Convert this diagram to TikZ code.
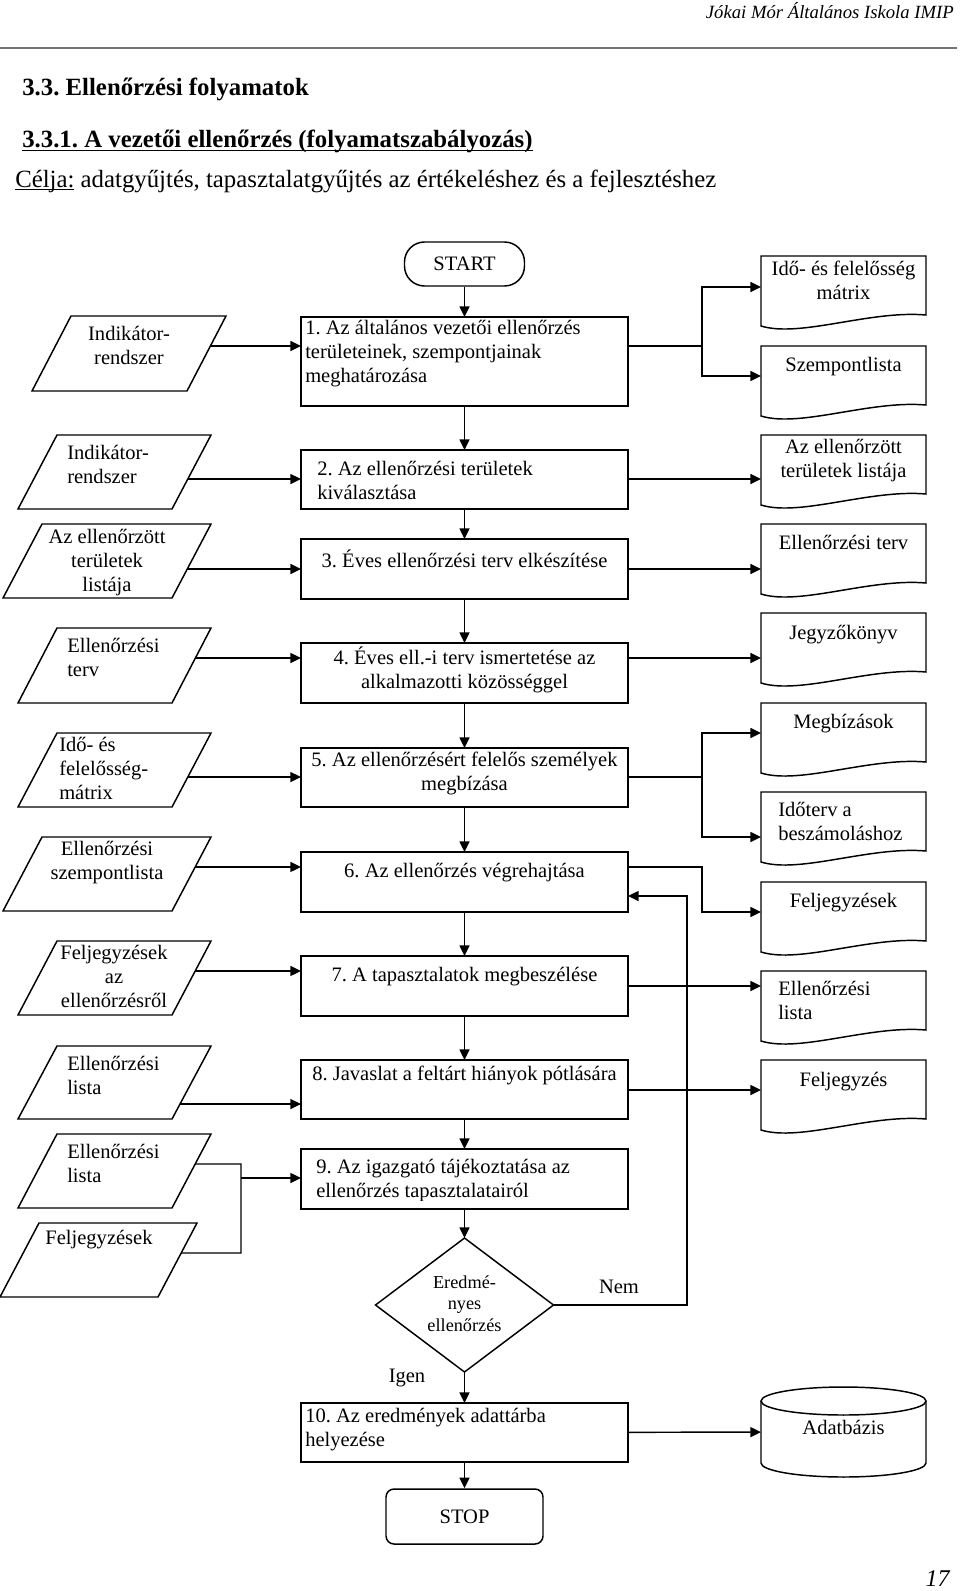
\documentclass[tikz,border=0pt]{standalone}
\usepackage{fontspec}
\setmainfont{Liberation Serif}
\usetikzlibrary{arrows.meta,calc}
\frenchspacing
\newcommand\myul[1]{\setbox0\hbox{#1}\rlap{\rule[-2.6pt]{\wd0}{0.9pt}}\box0\relax}
\newcommand\procbox[5]{\node[pbox,minimum width={(#4-#2)*0.75pt},minimum height={(#5-#3)*0.75pt}] (#1) at ({(#2+#4)/2},{(#3+#5)/2}) {};}
\newcommand\docshape[2]{%
  \node[inner sep=0pt,outer sep=0pt,minimum width=123.75pt,minimum height=52.5pt] (#1) at (843.5,{#2+35}) {};
  \draw[line] (761,{#2+70}) -- (761,#2) -- (926,#2) -- (926,{#2+59}) .. controls (870,{#2+54}) and (800,{#2+82}) .. (761,{#2+70}) -- cycle;}
\newcommand\para[5]{%
  \coordinate (#1-tl) at ({#2+39},#4);
  \coordinate (#1-tr) at (#3,#4);
  \coordinate (#1-br) at ({#3-39},#5);
  \coordinate (#1-bl) at (#2,#5);
  \draw[line] (#1-tl) -- (#1-tr) -- (#1-br) -- (#1-bl) -- cycle;}
\begin{document}
\begin{tikzpicture}[x=0.75pt,y=-0.75pt,
  line/.style={line width=1.1pt},
  arr/.style={line width=1.1pt,-{Triangle[length=8pt,width=7.5pt]}},
  pbox/.style={draw,line width=1.1pt,inner sep=0pt,outer sep=0pt},
  txt/.style={inner sep=0pt,font=\fontsize{15.4}{18}\selectfont,execute at begin node=\strut,execute at end node=\strut},
  dtxt/.style={inner sep=0pt,font=\fontsize{13.7}{16}\selectfont,execute at begin node=\strut,execute at end node=\strut},
  term/.style={draw,line width=1.1pt,inner sep=0pt,font=\fontsize{15.4}{18}\selectfont},
]
\useasboundingbox (0,0) rectangle (960,1591);

% header
\node[anchor=base east,inner sep=0pt,font=\fontsize{14}{16}\selectfont\itshape] (hdr) at (954,19) {Jókai Mór Általános Iskola IMIP};
\draw[line width=0.8pt,black!55] (0,48) -- (957,48);
\node[anchor=base west,inner sep=0pt,font=\fontsize{18.6}{22}\selectfont\bfseries] (h1) at (22,96) {3.3. Ellenőrzési folyamatok};
\node[anchor=base west,inner sep=0pt,font=\fontsize{18.6}{22}\selectfont\bfseries] (h2) at (22,148) {\myul{3.3.1. A vezetői ellenőrzés (folyamatszabályozás)}};
\node[anchor=base west,inner sep=0pt,font=\fontsize{18.6}{22}\selectfont] (h3) at (15,187) {\myul{Célja:} adatgyűjtés, tapasztalatgyűjtés az értékeléshez és a fejlesztéshez};

% terminals
\node[term,rounded corners=15pt,minimum width=90pt,minimum height=33pt] (start) at (464.5,264) {START};
\node[term,rounded corners=6pt,minimum width=117.75pt,minimum height=41.25pt] (stop) at (464.5,1516.5) {STOP};

% process boxes
\procbox{b1}{301}{317}{628}{406}
\procbox{b2}{301}{450}{628}{509}
\procbox{b3}{301}{539}{628}{599}
\procbox{b4}{301}{643}{628}{703}
\procbox{b5}{301}{748}{628}{807}
\procbox{b6}{301}{852}{628}{912}
\procbox{b7}{301}{956}{628}{1016}
\procbox{b8}{301}{1060}{628}{1119}
\procbox{b9}{301}{1149}{628}{1209}
\procbox{b10}{301}{1403}{628}{1462}

\node[txt,align=left,anchor=west] (t1) at (305,355) {1. Az általános vezetői ellenőrzés\\területeinek, szempontjainak\\meghatározása};
\node[txt,align=left,anchor=west] (t2) at (317,483.5) {2. Az ellenőrzési területek\\kiválasztása};
\node[txt] (t3) at (464.5,562) {3. Éves ellenőrzési terv elkészítése};
\node[txt,align=center] (t4) at (464.5,671) {4. Éves ell.-i terv ismertetése az\\alkalmazotti közösséggel};
\node[txt,align=center] (t5) at (464.5,775) {5. Az ellenőrzésért felelős személyek\\megbízása};
\node[txt] (t6) at (464.5,873) {6. Az ellenőrzés végrehajtása};
\node[txt] (t7) at (464.5,977) {7. A tapasztalatok megbeszélése};
\node[txt] (t8) at (464.5,1076) {8. Javaslat a feltárt hiányok pótlására};
\begin{scope}
\clip (301,1149) rectangle (628,1200);
\node[txt,align=left,anchor=west] (t9) at (316,1181.5) {9. Az igazgató tájékoztatása az\\ellenőrzés tapasztalatairól};
\end{scope}
\node[txt,align=left,anchor=west] (t10) at (305,1430.5) {10. Az eredmények adattárba\\helyezése};

% decision
\coordinate (dT) at (464.5,1238);
\coordinate (dR) at (553.5,1305);
\coordinate (dB) at (464.5,1372);
\coordinate (dL) at (375.5,1305);
\draw[line] (dT) -- (dR) -- (dB) -- (dL) -- cycle;
\node[dtxt,align=center] (dtx) at (464.5,1306.5) {Eredmé-\\nyes\\ellenőrzés};
\node[txt] (nem) at (619,1289) {Nem};
\node[txt] (igen) at (407,1378) {Igen};

% database cylinder
\node[inner sep=0pt,outer sep=0pt,minimum width=123.75pt,minimum height=67.5pt] (cyl) at (843.5,1432) {};
\draw[line] (843.5,1401) ellipse [x radius=82.5, y radius=14];
\draw[line] (761,1401) -- (761,1463) arc[start angle=180, end angle=0, x radius=82.5, y radius=14] -- (926,1401);
\node[txt] (dbt) at (843.5,1430) {Adatbázis};

% parallelograms (inputs)
\para{p1}{32}{226}{316}{391}
\para{p2}{18}{211}{435}{509}
\para{p3}{3}{211}{524}{598}
\para{p4}{18}{211}{628}{703}
\para{p5}{18}{211}{733}{807}
\para{p6}{3}{211}{837}{911}
\para{p7}{18}{211}{941}{1015}
\para{p8}{18}{211}{1046}{1119}
\para{p9}{18}{211}{1134}{1208}
\para{p10}{0}{197}{1223}{1297}

\node[txt,align=center] (p1t) at (129,349) {Indikátor-\\rendszer};
\node[txt,align=left,anchor=west] (p2t) at (67,468) {Indikátor-\\rendszer};
\node[txt,align=center] (p3t) at (107,563.5) {Az ellenőrzött\\területek\\listája};
\node[txt,align=left,anchor=west] (p4t) at (67,661) {Ellenőrzési\\terv};
\node[txt,align=left,anchor=west] (p5t) at (59,771.5) {Idő- és\\felelősség-\\mátrix};
\node[txt,align=center] (p6t) at (107,864) {Ellenőrzési\\szempontlista};
\node[txt,align=center] (p7t) at (114,979.5) {Feljegyzések\\az\\ellenőrzésről};
\node[txt,align=left,anchor=west] (p8t) at (67,1078.5) {Ellenőrzési\\lista};
\node[txt,align=left,anchor=west] (p9t) at (67,1166.5) {Ellenőrzési\\lista};
\node[txt] (p10t) at (99,1240) {Feljegyzések};

% documents (outputs)
\docshape{d1}{256}
\docshape{d2}{346}
\docshape{d3}{435}
\docshape{d4}{524}
\docshape{d5}{613}
\docshape{d6}{703}
\docshape{d7}{792}
\docshape{d8}{882}
\docshape{d9}{971}
\docshape{d10}{1060}

\node[txt,align=center] (d1t) at (843.5,283.5) {Idő- és felelősség\\mátrix};
\node[txt] (d2t) at (843.5,367) {Szempontlista};
\node[txt,align=center] (d3t) at (843.5,462) {Az ellenőrzött\\területek listája};
\node[txt] (d4t) at (843.5,545) {Ellenőrzési terv};
\node[txt] (d5t) at (843.5,635) {Jegyzőkönyv};
\node[txt] (d6t) at (843.5,724) {Megbízások};
\node[txt,align=left,anchor=west] (d7t) at (778,825) {Időterv a\\beszámoláshoz};
\node[txt] (d8t) at (843.5,903) {Feljegyzések};
\node[txt,align=left,anchor=west] (d9t) at (778,1004) {Ellenőrzési\\lista};
\node[txt] (d10t) at (843.5,1082) {Feljegyzés};

% main flow
\draw[arr] (start) -- (b1);
\foreach \a/\b in {b1/b2,b2/b3,b3/b4,b4/b5,b5/b6,b6/b7,b7/b8,b8/b9}
  \draw[arr] (\a) -- (\b);
\draw[arr] (b9) -- (dT);
\draw[arr] (dB) -- (b10);
\draw[arr] (b10) -- (stop);
\draw[arr] (b10) -- (cyl);
\draw[arr] (dR) -- (687,1305) |- (b6.east |- 0,896);

% inputs to boxes
\draw[arr] ($(p1-tr)!0.4!(p1-br)$) coordinate (s1) -- (b1.west |- s1);
\draw[arr] ($(p2-tr)!0.595!(p2-br)$) coordinate (s2) -- (b2.west |- s2);
\draw[arr] ($(p3-tr)!0.608!(p3-br)$) coordinate (s3) -- (b3.west |- s3);
\draw[arr] ($(p4-tr)!0.4!(p4-br)$) coordinate (s4) -- (b4.west |- s4);
\draw[arr] ($(p5-tr)!0.595!(p5-br)$) coordinate (s5) -- (b5.west |- s5);
\draw[arr] ($(p6-tr)!0.405!(p6-br)$) coordinate (s6) -- (b6.west |- s6);
\draw[arr] ($(p7-tr)!0.405!(p7-br)$) coordinate (s7) -- (b7.west |- s7);
\draw[arr] ($(p8-tr)!0.795!(p8-br)$) coordinate (s8) -- (b8.west |- s8);
\coordinate (j9) at (241,1178);
\draw[line] ($(p9-tr)!0.405!(p9-br)$) coordinate (s9) -- (j9 |- s9) -- (241,1253) -- ($(p10-tr)!0.405!(p10-br)$);
\draw[arr] (j9) -- (b9.west |- j9);

% boxes to documents
\coordinate (k1) at (702,346);
\draw[line] (b1.east |- k1) -- (k1);
\draw[arr] (k1) |- (d1.west |- 0,287);
\draw[arr] (k1) |- (d2.west |- 0,376);
\draw[arr] (b2.east |- 0,479) -- (d3.west |- 0,479);
\draw[arr] (b3.east |- 0,569) -- (d4.west |- 0,569);
\draw[arr] (b4.east |- 0,658) -- (d5.west |- 0,658);
\coordinate (k5) at (702,777);
\draw[line] (b5.east |- k5) -- (k5);
\draw[arr] (k5) |- (d6.west |- 0,733);
\draw[arr] (k5) |- (d7.west |- 0,837);
\draw[arr] (b6.east |- 0,867) -- (702,867) |- (d8.west |- 0,912);
\draw[arr] (b7.east |- 0,986) -- (d9.west |- 0,986);
\draw[arr] (b8.east |- 0,1090) -- (d10.west |- 0,1090);

% page number
\node[anchor=base east,inner sep=0pt,font=\fontsize{18}{22}\selectfont\itshape] (pg) at (950,1586) {17};
\end{tikzpicture}
\end{document}
